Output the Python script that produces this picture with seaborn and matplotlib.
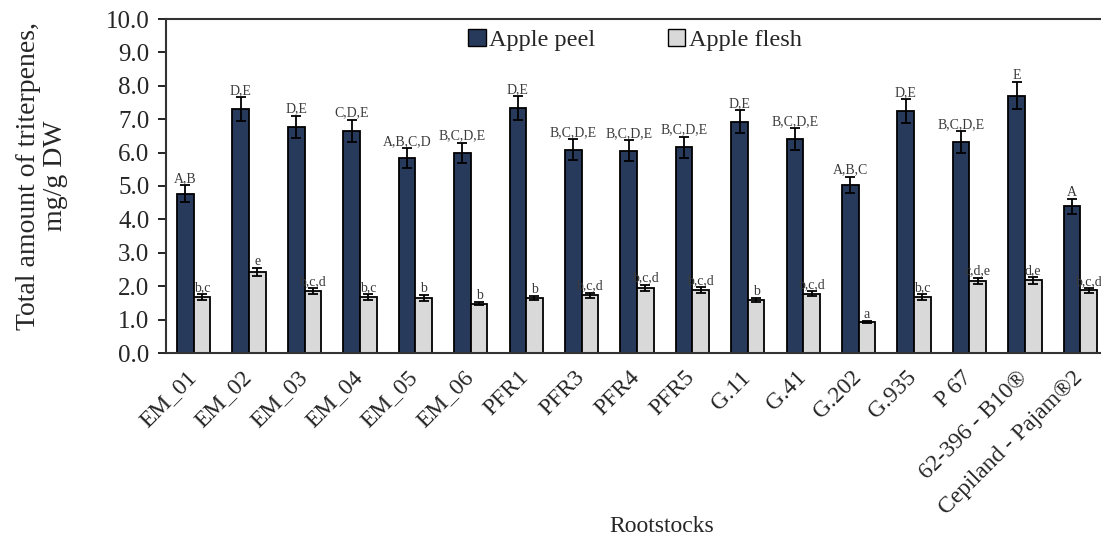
import numpy as np
import pandas as pd
import matplotlib
matplotlib.use("Agg")
import matplotlib.pyplot as plt
import matplotlib.transforms as mtransforms
import seaborn as sns

rootstocks = ["EM_01", "EM_02", "EM_03", "EM_04", "EM_05", "EM_06", "PFR1", "PFR3",
              "PFR4", "PFR5", "G.11", "G.41", "G.202", "G.935", "P 67",
              "62-396 - B10®", "Cepiland - Pajam®2"]

peel = [4.77, 7.30, 6.78, 6.66, 5.83, 5.99, 7.33, 6.09, 6.06, 6.16, 6.93, 6.41,
        5.03, 7.25, 6.31, 7.70, 4.39]
peel_err = [0.26, 0.36, 0.33, 0.33, 0.30, 0.31, 0.36, 0.31, 0.31, 0.32, 0.34, 0.33,
            0.25, 0.36, 0.33, 0.40, 0.22]
flesh = [1.68, 2.42, 1.86, 1.68, 1.65, 1.48, 1.65, 1.73, 1.96, 1.88, 1.58, 1.78,
         0.94, 1.68, 2.16, 2.18, 1.88]
flesh_err = [0.09, 0.11, 0.08, 0.08, 0.08, 0.04, 0.06, 0.08, 0.09, 0.09, 0.06, 0.08,
             0.03, 0.08, 0.10, 0.10, 0.07]

peel_letters = ["A,B", "D,E", "D,E", "C,D,E", "A,B,C,D", "B,C,D,E", "D,E", "B,C,D,E",
                "B,C,D,E", "B,C,D,E", "D,E", "B,C,D,E", "A,B,C", "D,E", "B,C,D,E", "E", "A"]
flesh_letters = ["b,c", "e", "b,c,d", "b,c", "b", "b", "b", "b,c,d", "b,c,d", "b,c,d",
                 "b", "b,c,d", "a", "b,c", "c,d,e", "d,e", "b,c,d"]

series = ["Apple peel", "Apple flesh"]
colors = {"Apple peel": "#1f3864", "Apple flesh": "#d9d9d9"}

df = pd.DataFrame({
    "Rootstock": rootstocks * 2,
    "Part": [series[0]] * len(rootstocks) + [series[1]] * len(rootstocks),
    "Value": peel + flesh,
})

sns.set_theme(style="white")
plt.rcParams["font.family"] = ["Liberation Serif", "DejaVu Serif"]

fig = plt.figure(figsize=(11.01, 5.36), dpi=100)
ax = fig.add_axes([166 / 1101, 183 / 536, 942 / 1101, 334 / 536])

sns.barplot(data=df, x="Rootstock", y="Value", hue="Part", hue_order=series,
            palette=colors, width=0.6, edgecolor="black", linewidth=1.3,
            errorbar=None, ax=ax)

# error bars and significance letters on top of each bar
errs = [peel_err, flesh_err]
letters = [peel_letters, flesh_letters]
vals = [peel, flesh]
bar_containers = list(ax.containers)
for k, cont in enumerate(bar_containers):
    xs = [p.get_x() + p.get_width() / 2 for p in cont.patches]
    ax.errorbar(xs, vals[k], yerr=errs[k], fmt="none", ecolor="black",
                elinewidth=1.3, capsize=3.5, capthick=1.3)
    for x, v, e, t in zip(xs, vals[k], errs[k], letters[k]):
        ax.annotate(t, (x, v + e), xytext=(0, 0), textcoords="offset points",
                    ha="center", va="bottom", fontsize=10, color="#3a3a3a")

ax.set_ylim(0, 10)
ax.set_xlim(-0.5, len(rootstocks) - 0.5)
ax.set_yticks(np.arange(0, 10.01, 1.0))
ax.set_yticklabels([f"{v:.1f}" for v in np.arange(0, 10.01, 1.0)], fontsize=18)
ax.tick_params(axis="y", direction="out", length=6, width=1.2, color="black", pad=6, left=True)
ax.tick_params(axis="x", length=0, pad=10)
shift = mtransforms.ScaledTranslation(-0.08, 0, fig.dpi_scale_trans)
for lab in ax.get_xticklabels():
    lab.set_rotation(45)
    lab.set_ha("right")
    lab.set_rotation_mode("anchor")
    lab.set_fontsize(17)
    lab.set_transform(lab.get_transform() + shift)
ax.set_xlabel("")
ax.set_ylabel("")

for side in ["left", "bottom", "top"]:
    ax.spines[side].set_color("#333333")
    ax.spines[side].set_linewidth(1.5)
ax.spines["right"].set_visible(False)

leg = ax.legend(loc="center", bbox_to_anchor=(0.498, 0.937), ncol=2, frameon=False,
                fontsize=17.5, handlelength=0.7, handleheight=0.7, handletextpad=0.15,
                columnspacing=3.0)
for h in leg.legend_handles:
    h.set_edgecolor("black")
    h.set_linewidth(1.0)

fig.text(42 / 1101, 1 - 176 / 536, "Total amount of triterpenes,\nmg/g DW",
         rotation=90, ha="center", va="center", fontsize=20, linespacing=1.1)
fig.text(662 / 1101, 1 - 527 / 536, "Rootstocks", ha="center", va="center", fontsize=17)

fig.savefig("out.png", dpi=100)
